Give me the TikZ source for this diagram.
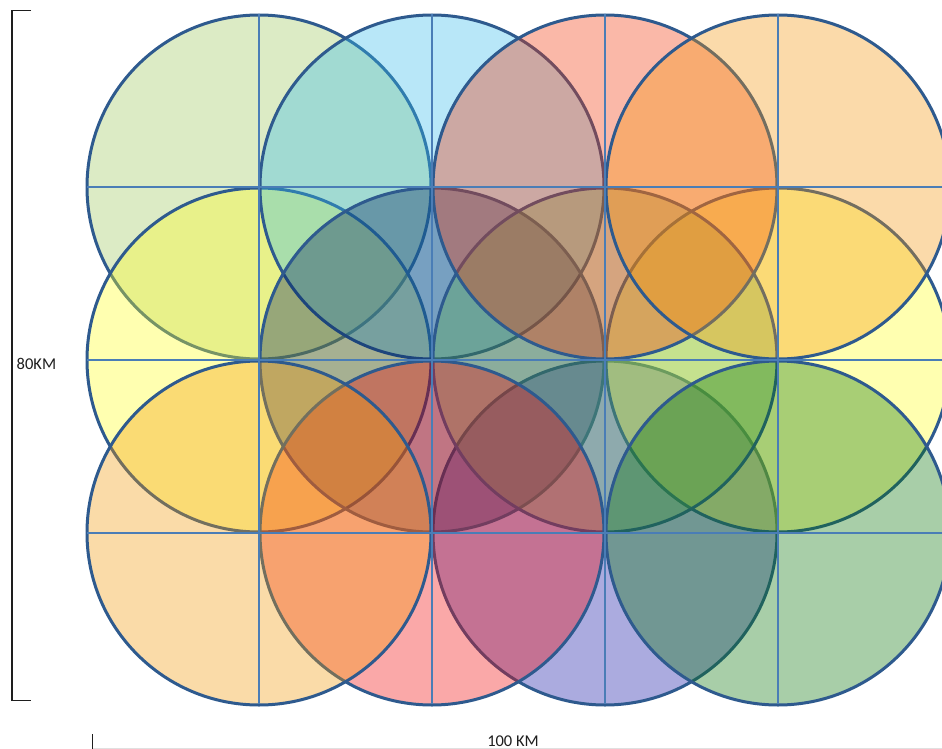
\documentclass[tikz,border=0pt]{standalone}
\usepackage{fontspec}
\setmainfont{Carlito}
% circle base colours (drawn at 35% fill opacity)
\definecolor{cA}{RGB}{155,198,89}   % top left green
\definecolor{cB}{RGB}{52,189,235}   % top cyan
\definecolor{cC}{RGB}{243,52,6}     % top red
\definecolor{cD}{RGB}{246,149,12}   % top right orange
\definecolor{cE}{RGB}{255,255,29}   % middle left yellow
\definecolor{cF}{RGB}{0,30,92}      % middle navy
\definecolor{cG}{RGB}{90,170,80}    % middle green
\definecolor{cH}{RGB}{255,255,29}   % middle right yellow
\definecolor{cI}{RGB}{243,152,6}    % bottom left orange
\definecolor{cJ}{RGB}{243,8,8}      % bottom red
\definecolor{cK}{RGB}{15,15,166}    % bottom blue
\definecolor{cL}{RGB}{7,115,7}      % bottom right green
\definecolor{rim}{HTML}{2E5A8E}
\definecolor{gridc}{HTML}{4A7DB6}
\definecolor{ink}{HTML}{1E1E1E}
\tikzset{
  cell/.style={fill=#1, fill opacity=0.35, draw=rim, line width=3pt},
  gridline/.style={draw=gridc, line width=1.4pt},
  bracket/.style={draw=ink, line width=1.3pt},
  lbl/.style={font=\fontsize{16.5}{19}\selectfont, text=ink, inner sep=0pt}
}
\begin{document}
\begin{tikzpicture}[x=1pt,y=-1pt]
\useasboundingbox (0,0) rectangle (942,749);
\fill[white] (0,0) rectangle (942,749);
\begin{scope}
\clip (0,0) rectangle (942,749);
% circles, in stacking order
\foreach \cx/\cy/\cc in {605/533/cK,778/360/cH,259/187/cA,259/360/cE,
                         432/187/cB,432/360/cF,605/360/cG,605/187/cC,
                         778/187/cD,432/533/cJ,259/533/cI,778/533/cL}
  {\path[cell=\cc] (\cx,\cy) circle[radius=172pt];}
% grid
\foreach \gx in {259,432,605,778} {\draw[gridline] (\gx,14) -- (\gx,704);}
\foreach \gy in {187,360,533} {\draw[gridline] (87,\gy) -- (942,\gy);}
% bottom scale (cut off)
\coordinate (t1) at (92,734);
\coordinate (t2) at (92,749);
\draw[bracket, line width=1pt] (t1) -- (t2);
\coordinate (b1) at (93,748.3);
\coordinate (b2) at (942,748.3);
\draw[draw=black!12, line width=1pt] (b1) -- (b2);
\end{scope}
% left bracket
\coordinate (v1) at (31,10.7);
\coordinate (v2) at (12,10.7);
\coordinate (v3) at (12,700.7);
\coordinate (v4) at (31,700.7);
\draw[bracket] (v1) -- (v2) -- (v3) -- (v4);
\node[lbl, anchor=west] (h) at (16.5,364) {80KM};
\node[lbl, anchor=base] (w) at (513,746) {100 KM};
\end{tikzpicture}
\end{document}
